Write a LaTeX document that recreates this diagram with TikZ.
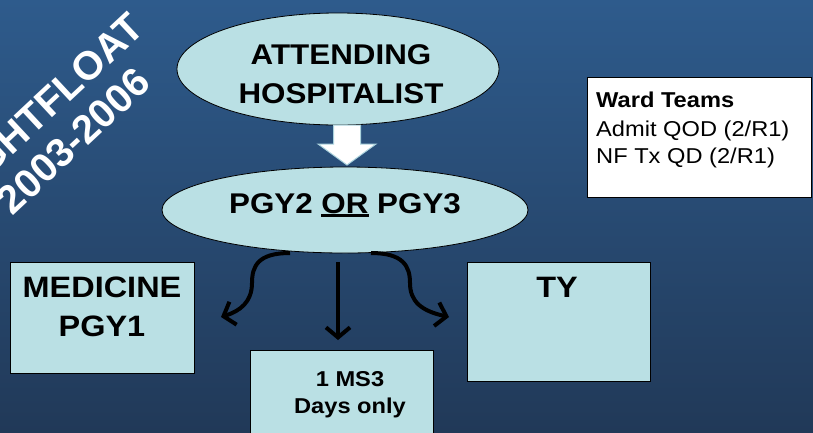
\documentclass[tikz,border=0pt]{standalone}
\usepackage{fontspec}
\setmainfont{Liberation Sans}[FakeStretch=1.1]
\newfontfamily\plainsans{Liberation Sans}
\usetikzlibrary{arrows.meta}
\definecolor{bgtop}{RGB}{46,91,140}
\definecolor{bgbot}{RGB}{33,57,88}
\definecolor{boxfill}{RGB}{186,224,228}
\definecolor{arrowedge}{RGB}{170,210,220}
\newcommand\ulword[1]{\setbox0\hbox{#1}\rlap{\rule[-3.5pt]{\wd0}{2.2pt}}\box0\relax}
\tikzset{
  shapebox/.style={draw=black, line width=0.8pt, fill=boxfill},
  bigtxt/.style={font=\fontsize{28.5}{34}\selectfont\bfseries, anchor=base, inner sep=0pt},
  boxtxt/.style={font=\fontsize{29.5}{35}\selectfont\bfseries, anchor=base, inner sep=0pt},
  smalltxt/.style={font=\fontsize{21.5}{26}\selectfont\bfseries, anchor=base, inner sep=0pt},
  wardtxt/.style={font=\fontsize{21.5}{26}\selectfont, anchor=base west, inner sep=0pt},
  conn/.style={line width=4pt, -{Straight Barb[length=10pt,width=24pt,line width=4pt]}},
  rottxt/.style={font=\plainsans\fontsize{40}{44}\selectfont\bfseries, text=white, rotate=43, inner sep=0pt, anchor=mid}
}
\begin{document}
\begin{tikzpicture}[x=1pt,y=-1pt]
\useasboundingbox (0,0) rectangle (813,432);
\shade[top color=bgtop, bottom color=bgbot] (0,0) rectangle (813,432);

% rotated title
\node[rottxt] (nf1) at (51,116) {NIGHTFLOAT};
\node[rottxt] (nf2) at (81,149) {2003-2006};

% ellipses
\draw[shapebox] (338,69) ellipse [x radius=161, y radius=56];
\coordinate (att) at (338,69);
\draw[shapebox] (345,210) ellipse [x radius=183, y radius=43];
\coordinate (pgy) at (345,210);
\node[bigtxt] (t1) at (341,64.5) {ATTENDING};
\node[bigtxt] (t2) at (341,103) {HOSPITALIST};
\node[bigtxt] (t3) at (345,213) {PGY2 \ulword{OR} PGY3};

% block arrow
\draw[fill=white, draw=arrowedge, line width=1pt]
  (333.5,125) -- (360.5,125) -- (360.5,144) -- (376,144) -- (347,165) -- (318,144) -- (333.5,144) -- cycle;

% boxes
\node[shapebox, minimum width=184, minimum height=111, inner sep=0pt] (med) at (102,317.5) {};
\node[shapebox, minimum width=183, minimum height=119, inner sep=0pt] (ty) at (558.5,321.5) {};
\node[shapebox, minimum width=183, minimum height=100, inner sep=0pt] (ms) at (341.5,400) {};
\node[boxtxt] (medt1) at (102,297) {MEDICINE};
\node[boxtxt] (medt2) at (102,336) {PGY1};
\node[boxtxt] (tyt) at (557,297) {TY};
\node[smalltxt] (mst1) at (350,386) {1 MS3};
\node[smalltxt] (mst2) at (350,413) {Days only};

% ward teams
\node[draw=black, line width=0.8pt, fill=white, minimum width=224, minimum height=120, inner sep=0pt] (ward) at (699,137) {};
\node[wardtxt, font=\fontsize{21.5}{26}\selectfont\bfseries] (w1) at (596,107) {Ward Teams};
\node[wardtxt] (w2) at (596,136) {Admit QOD (2/R1)};
\node[wardtxt] (w3) at (596,163) {NF Tx QD (2/R1)};

% connectors
\coordinate (ls) at (290,253);
\coordinate (lt) at (221,317);
\coordinate (ms0) at (338,262);
\coordinate (mt) at (338,340);
\coordinate (rs) at (371,253);
\coordinate (rt) at (449,317);
\draw[conn] (ls) .. controls (258,253) and (252,266) .. (252,283) .. controls (252,302) and (240,311) .. (lt);
\draw[conn] (ms0) -- (mt);
\draw[conn] (rs) .. controls (403,253) and (410,266) .. (410,283) .. controls (410,302) and (422,311) .. (rt);
\end{tikzpicture}
\end{document}
